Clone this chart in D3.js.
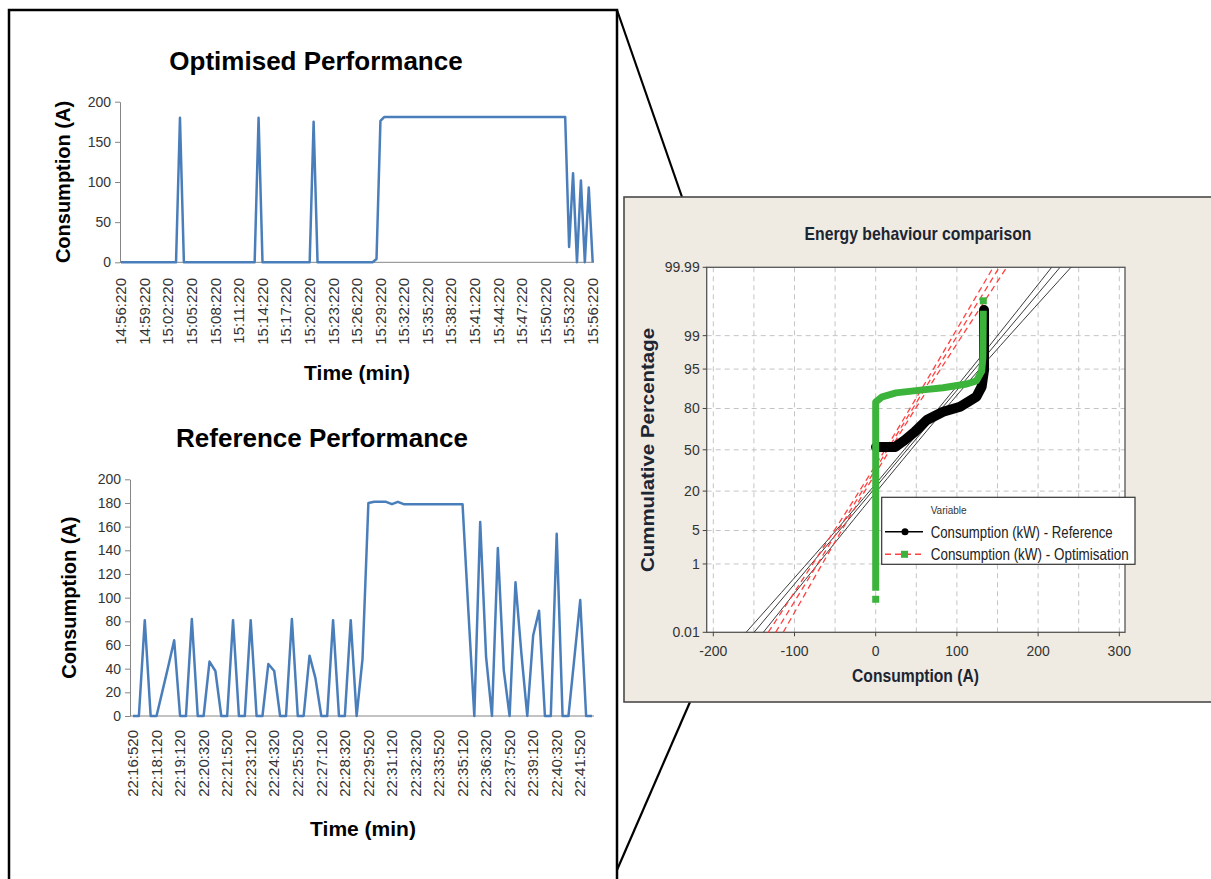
<!DOCTYPE html>
<html>
<head>
<meta charset="utf-8">
<script src="https://cdn.jsdelivr.net/npm/d3@7/dist/d3.min.js"></script>
<style>
body { margin: 0; background: #fff; }
svg { display: block; }
</style>
</head>
<body>
<svg width="1211" height="879"></svg>
<script>
// Optimised performance (top left), one sample every 30 s
const optTimeLabels = ["14:56:220","14:59:220","15:02:220","15:05:220","15:08:220","15:11:220","15:14:220",
  "15:17:220","15:20:220","15:23:220","15:26:220","15:29:220","15:32:220","15:35:220","15:38:220",
  "15:41:220","15:44:220","15:47:220","15:50:220","15:53:220","15:56:220"];
const optValues = [
  0,0,0,0,0,0,0,0,0,0,0,0,0,0,0,180,0,0,0,0,
  0,0,0,0,0,0,0,0,0,0,0,0,0,0,0,180,0,0,0,0,
  0,0,0,0,0,0,0,0,0,175,0,0,0,0,0,0,0,0,0,0,
  0,0,0,0,0,4,176,181,181,181,181,181,181,181,181,181,181,181,181,181,
  181,181,181,181,181,181,181,181,181,181,181,181,181,181,181,181,181,181,181,181,
  181,181,181,181,181,181,181,181,181,181,181,181,181,181,19,111,0,102,0,93,
  0];

// Reference performance (bottom left)
const refTimeLabels = ["22:16:520","22:18:120","22:19:120","22:20:320","22:21:520","22:23:120","22:24:320",
  "22:25:520","22:27:120","22:28:320","22:29:520","22:31:120","22:32:320","22:33:520","22:35:120",
  "22:36:320","22:37:520","22:39:120","22:40:320","22:41:520"];
const refValues = [
  0,0,81,0,0,21,42,64,0,0,82,0,0,46,38,0,0,81,0,0,
  81,0,0,44,38,0,0,82,0,0,51,32,0,0,81,0,0,81,0,48,
  180,181,181,181,179,181,179,179,179,179,179,179,179,179,179,179,179,88,0,164,
  50,0,142,39,0,113,53,0,68,89,0,0,154,0,0,49,98,0,0];

// Probability plot (right): [consumption A, cumulative %]
const pctTicks = [0.01, 1, 5, 20, 50, 80, 95, 99, 99.99];
const consTicks = [-200, -100, 0, 100, 200, 300];
const consGrid = [-200, -150, -100, -50, 0, 50, 100, 150, 200, 250, 300];
const refPoints = [[0.4,52.3],[24,52.3],[36,57.9],[48,64.2],[63,72.8],[83,78.1],[104,81],
  [124,86],[130.5,90.1],[133.4,94.8],[133.4,99.78]];
const optPoints = [[0,0.205],[0,83.5],[8,86],[25,87.7],[55,88.8],[83,89.7],[112,91],
  [124,92],[130.5,94.5],[132,97],[132.5,99.77]];
const optEndPoints = [[0,0.116],[132.5,99.88]];
// fit line and confidence bands: [cumulative %, consumption A]
const refFit = [[0.01,-149.8],[99.99,227]];
const refLower = [[0.01,-159.6],[5,-49],[50,35],[95,117],[99.99,216.7]];
const refUpper = [[0.01,-138.4],[5,-38],[50,43.5],[95,128],[99.99,240.5]];
const optFit = [[0.01,-123.2],[99.99,152.2]];
const optLower = [[0.01,-132.3],[5,-51],[50,11.5],[95,71],[99.99,144.8]];
const optUpper = [[0.01,-113.9],[5,-42],[50,17.5],[95,80],[99.99,161.3]];

const svg = d3.select("svg");
const FONT = "'Liberation Sans', Arial, sans-serif";

// frame and zoom lines
svg.append("rect")
  .attr("x", 9).attr("y", 10).attr("width", 608).attr("height", 900)
  .attr("fill", "none").attr("stroke", "#000").attr("stroke-width", 2.5);
svg.append("line").attr("x1", 617).attr("y1", 10).attr("x2", 682).attr("y2", 197)
  .attr("stroke", "#000").attr("stroke-width", 2.2);
svg.append("line").attr("x1", 690).attr("y1", 702).attr("x2", 617).attr("y2", 870)
  .attr("stroke", "#000").attr("stroke-width", 2.2);

// 折线图（Excel 风格）
function lineChart(o) {
  const x = d3.scaleLinear().domain([0, o.values.length - 1]).range([o.x0, o.x1]);
  const y = d3.scaleLinear().domain([0, 200]).range([o.y0, o.y1]);

  svg.append("text")
    .attr("x", o.titleX).attr("y", o.titleY)
    .attr("text-anchor", "middle")
    .attr("font-family", FONT).attr("font-weight", "bold").attr("font-size", 26)
    .text(o.title);

  const ya = svg.append("g")
    .attr("transform", "translate(" + o.axisX + ",0)")
    .call(d3.axisLeft(y).tickValues(o.yTicks).tickSize(5).tickPadding(4).tickSizeOuter(0));
  ya.select(".domain").attr("stroke", "#868686");
  ya.selectAll(".tick line").attr("stroke", "#868686");
  ya.selectAll(".tick text").attr("font-family", FONT).attr("font-size", 14).attr("fill", "#333");

  svg.append("line")
    .attr("x1", o.axisX).attr("x2", 594).attr("y1", o.y0).attr("y2", o.y0)
    .attr("stroke", "#868686");

  svg.append("g").selectAll("text")
    .data(o.labels)
    .join("text")
    .attr("transform", (d, i) => "translate(" + x(i * o.labelStep) + "," + o.labelTop + ") rotate(-90)")
    .attr("text-anchor", "end")
    .attr("dy", "0.35em")
    .attr("font-family", FONT).attr("font-size", 15).attr("fill", "#333")
    .text(d => d);

  svg.append("text")
    .attr("transform", "translate(" + o.yTitleX + "," + (o.y0 + o.y1) / 2 + ") rotate(-90)")
    .attr("text-anchor", "middle")
    .attr("font-family", FONT).attr("font-weight", "bold").attr("font-size", 20)
    .text("Consumption (A)");

  svg.append("text")
    .attr("x", o.xTitleX).attr("y", o.xTitleY)
    .attr("text-anchor", "middle")
    .attr("font-family", FONT).attr("font-weight", "bold").attr("font-size", 21)
    .text("Time (min)");

  svg.append("path")
    .datum(o.values)
    .attr("d", d3.line().x((d, i) => x(i)).y(d => y(d)))
    .attr("fill", "none")
    .attr("stroke", "#4a7ebb")
    .attr("stroke-width", 2.5)
    .attr("stroke-linejoin", "round");
}

lineChart({
  title: "Optimised Performance", titleX: 316, titleY: 70,
  values: optValues, labels: optTimeLabels, labelStep: 6, labelTop: 278,
  x0: 121, x1: 592.7, y0: 262.3, y1: 101.7, axisX: 120,
  yTicks: [0, 50, 100, 150, 200], yTitleX: 70, xTitleX: 357, xTitleY: 380
});

lineChart({
  title: "Reference Performance", titleX: 322, titleY: 447,
  values: refValues, labels: refTimeLabels, labelStep: 4, labelTop: 730,
  x0: 133, x1: 592, y0: 716, y1: 479.3, axisX: 130,
  yTicks: d3.range(0, 201, 20), yTitleX: 76, xTitleX: 363, xTitleY: 836
});

// ---- 概率图 ----
function probit(p) {
  const a = [-3.969683028665376e+01, 2.209460984245205e+02, -2.759285104469687e+02, 1.383577518672690e+02, -3.066479806614716e+01, 2.506628277459239e+00];
  const b = [-5.447609879822406e+01, 1.615858368580409e+02, -1.556989798598866e+02, 6.680131188771972e+01, -1.328068155288572e+01];
  const c = [-7.784894002430293e-03, -3.223964580411365e-01, -2.400758277161838e+00, -2.549732539343734e+00, 4.374664141464968e+00, 2.938163982698783e+00];
  const d = [7.784695709041462e-03, 3.224671290700398e-01, 2.445134137142996e+00, 3.754408661907416e+00];
  const pl = 0.02425;
  let q, r;
  if (p < pl) {
    q = Math.sqrt(-2 * Math.log(p));
    return (((((c[0]*q+c[1])*q+c[2])*q+c[3])*q+c[4])*q+c[5]) / ((((d[0]*q+d[1])*q+d[2])*q+d[3])*q+1);
  }
  if (p > 1 - pl) {
    q = Math.sqrt(-2 * Math.log(1 - p));
    return -(((((c[0]*q+c[1])*q+c[2])*q+c[3])*q+c[4])*q+c[5]) / ((((d[0]*q+d[1])*q+d[2])*q+d[3])*q+1);
  }
  q = p - 0.5; r = q * q;
  return (((((a[0]*r+a[1])*r+a[2])*r+a[3])*r+a[4])*r+a[5])*q / (((((b[0]*r+b[1])*r+b[2])*r+b[3])*r+b[4])*r+1);
}

// panel background
svg.append("rect")
  .attr("x", 624).attr("y", 197).attr("width", 620).attr("height", 505)
  .attr("fill", "#efebe2").attr("stroke", "#4a4a4a").attr("stroke-width", 1.6);

const px = d3.scaleLinear().domain([-200, 300]).range([713.3, 1119.3]);
const zScale = d3.scaleLinear().domain([probit(0.0001), probit(0.9999)]).range([632.3, 267.3]);
const py = pct => zScale(probit(pct / 100));
const pLeft = 706.7, pRight = 1125, pTop = py(99.99), pBottom = py(0.01);

svg.append("rect")
  .attr("x", pLeft).attr("y", pTop).attr("width", pRight - pLeft).attr("height", pBottom - pTop)
  .attr("fill", "#fff");

const grid = svg.append("g").attr("stroke", "#c4c4c4").attr("stroke-dasharray", "5,4");
grid.selectAll(".gx").data(consGrid).join("line")
  .attr("x1", d => px(d)).attr("x2", d => px(d)).attr("y1", pTop).attr("y2", pBottom);
grid.selectAll(".gy").data(pctTicks.slice(1, -1)).join("line")
  .attr("x1", pLeft).attr("x2", pRight).attr("y1", d => py(d)).attr("y2", d => py(d));

svg.append("rect")
  .attr("x", pLeft).attr("y", pTop).attr("width", pRight - pLeft).attr("height", pBottom - pTop)
  .attr("fill", "none").attr("stroke", "#555").attr("stroke-width", 1.3);

// ticks
const tickG = svg.append("g").attr("font-family", FONT).attr("font-size", 14).attr("fill", "#333");
tickG.selectAll(".ty").data(pctTicks).join("text")
  .attr("x", pLeft - 7).attr("y", d => py(d)).attr("dy", "0.35em")
  .attr("text-anchor", "end").text(d => d);
tickG.selectAll(".tyl").data(pctTicks).join("line")
  .attr("x1", pLeft - 4).attr("x2", pLeft).attr("y1", d => py(d)).attr("y2", d => py(d))
  .attr("stroke", "#444");
tickG.selectAll(".tx").data(consTicks).join("text")
  .attr("x", d => px(d)).attr("y", 656).attr("text-anchor", "middle").text(d => d);
tickG.selectAll(".txl").data(consTicks).join("line")
  .attr("x1", d => px(d)).attr("x2", d => px(d)).attr("y1", pBottom).attr("y2", pBottom + 4)
  .attr("stroke", "#444");

// titles
svg.append("text")
  .attr("x", 918).attr("y", 240).attr("text-anchor", "middle")
  .attr("font-family", FONT).attr("font-weight", "bold").attr("font-size", 19)
  .attr("fill", "#1c2533")
  .attr("textLength", 227).attr("lengthAdjust", "spacingAndGlyphs")
  .text("Energy behaviour comparison");
svg.append("text")
  .attr("transform", "translate(654,450) rotate(-90)").attr("text-anchor", "middle")
  .attr("font-family", FONT).attr("font-weight", "bold").attr("font-size", 18)
  .attr("fill", "#1c2533")
  .attr("textLength", 244).attr("lengthAdjust", "spacingAndGlyphs")
  .text("Cummulative Percentage");
svg.append("text")
  .attr("x", 915.5).attr("y", 682).attr("text-anchor", "middle")
  .attr("font-family", FONT).attr("font-weight", "bold").attr("font-size", 19)
  .attr("fill", "#1c2533")
  .attr("textLength", 127).attr("lengthAdjust", "spacingAndGlyphs")
  .text("Consumption (A)");

// fit lines and confidence bands
const bandLine = d3.line().x(d => px(d[1])).y(d => py(d[0])).curve(d3.curveNatural);
[refLower, refFit, refUpper].forEach(arr => {
  svg.append("path").datum(arr).attr("d", bandLine)
    .attr("fill", "none").attr("stroke", "#3a3a3a").attr("stroke-width", 1);
});
[optLower, optFit, optUpper].forEach(arr => {
  svg.append("path").datum(arr).attr("d", bandLine)
    .attr("fill", "none").attr("stroke", "#ff4040").attr("stroke-width", 1.3)
    .attr("stroke-dasharray", "6,4");
});

// points
const ptLine = d3.line().x(d => px(d[0])).y(d => py(d[1]));
svg.append("path").datum(refPoints).attr("d", ptLine)
  .attr("fill", "none").attr("stroke", "#000").attr("stroke-width", 10)
  .attr("stroke-linejoin", "round").attr("stroke-linecap", "round");
svg.append("path").datum(optPoints).attr("d", ptLine)
  .attr("fill", "none").attr("stroke", "#3cb43c").attr("stroke-width", 7)
  .attr("stroke-linejoin", "round");
svg.selectAll(".optEnd").data(optEndPoints).join("rect")
  .attr("x", d => px(d[0]) - 3.5).attr("y", d => py(d[1]) - 3.5)
  .attr("width", 7).attr("height", 7).attr("fill", "#3cb43c");

// legend
const lg = svg.append("g");
lg.append("rect").attr("x", 881.7).attr("y", 497.3).attr("width", 253.3).attr("height", 67)
  .attr("fill", "#fff").attr("stroke", "#333").attr("stroke-width", 1.2);
lg.append("text").attr("x", 930.7).attr("y", 514).attr("font-family", FONT).attr("font-size", 10)
  .attr("fill", "#333").text("Variable");
lg.append("line").attr("x1", 885).attr("x2", 923).attr("y1", 531.7).attr("y2", 531.7)
  .attr("stroke", "#000").attr("stroke-width", 1.5);
lg.append("circle").attr("cx", 905).attr("cy", 531.7).attr("r", 3.5).attr("fill", "#000");
lg.append("line").attr("x1", 885).attr("x2", 923).attr("y1", 554.3).attr("y2", 554.3)
  .attr("stroke", "#ff4040").attr("stroke-width", 1.5).attr("stroke-dasharray", "6,4");
lg.append("rect").attr("x", 901).attr("y", 550.8).attr("width", 7).attr("height", 7).attr("fill", "#3cb43c");
lg.append("text").attr("x", 930.7).attr("y", 537.5).attr("font-family", FONT).attr("font-size", 16.5)
  .attr("fill", "#222").attr("textLength", 182).attr("lengthAdjust", "spacingAndGlyphs")
  .text("Consumption (kW) - Reference");
lg.append("text").attr("x", 930.7).attr("y", 560).attr("font-family", FONT).attr("font-size", 16.5)
  .attr("fill", "#222").attr("textLength", 198).attr("lengthAdjust", "spacingAndGlyphs")
  .text("Consumption (kW) - Optimisation");
</script>
</body>
</html>
